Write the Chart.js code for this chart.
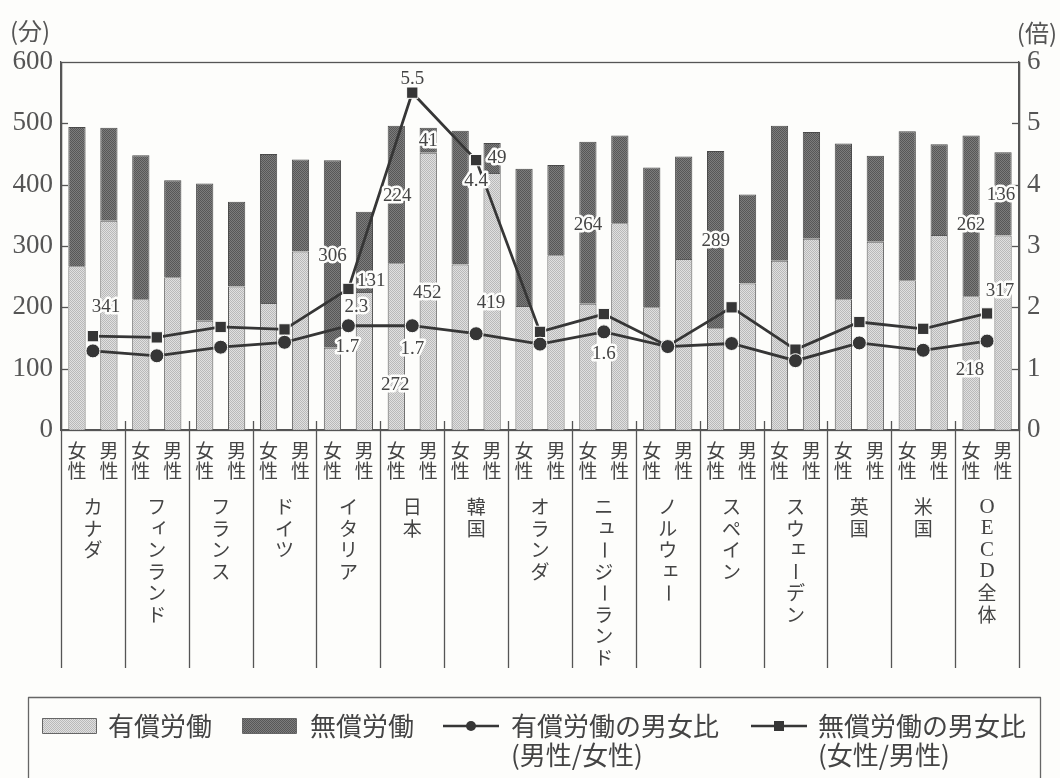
<!DOCTYPE html>
<html>
<head>
<meta charset="utf-8">
<script src="https://cdn.jsdelivr.net/npm/chart.js@4.4.0/dist/chart.umd.min.js"></script>
<style>
  html, body { margin: 0; background: #fdfdfb; }
  #wrap { width: 1060px; height: 778px; }
</style>
</head>
<body>
<div id="wrap"><canvas id="chart" width="1060" height="778"></canvas></div>
<script>
// categories: each country has a female / male pair of bars
const countries = ['カナダ', 'フィンランド', 'フランス', 'ドイツ', 'イタリア', '日本', '韓国', 'オランダ',
  'ニュージーランド', 'ノルウェー', 'スペイン', 'スウェーデン', '英国', '米国', 'OECD全体'];
const sexes = [['女', '性'], ['男', '性']];

// minutes per day, order: F, M for each country
const paidMinutes = [267, 341, 213, 249, 178, 234, 207, 291, 134, 225, 272, 452, 270, 419, 202, 285,
  206, 337, 200, 279, 166, 239, 276, 312, 213, 307, 244, 318, 218, 317];
const unpaidMinutes = [227, 152, 235, 158, 224, 138, 243, 150, 306, 131, 224, 41, 218, 49, 224, 147,
  264, 143, 228, 167, 289, 145, 220, 174, 254, 140, 243, 148, 262, 136];

// ratios per country
const paidRatio = [1.29, 1.21, 1.35, 1.43, 1.7, 1.7, 1.57, 1.40, 1.6, 1.36, 1.41, 1.13, 1.42, 1.30, 1.45];   // 男性/女性
const unpaidRatio = [1.53, 1.51, 1.68, 1.64, 2.3, 5.5, 4.4, 1.60, 1.89, 1.37, 2.0, 1.31, 1.76, 1.65, 1.9]; // 女性/男性

const minuteTicks = [0, 100, 200, 300, 400, 500, 600];
const ratioTicks = [0, 1, 2, 3, 4, 5, 6];

// which values get a printed label (dataset, index, offset from the mark)
const shownLabels = [
  { ds: 0, i: 1, dx: -3, dy: 86 },
  { ds: 1, i: 8, dx: 0, dy: 96 },
  { ds: 1, i: 9, dx: 7, dy: 69 },
  { ds: 1, i: 10, dx: 1, dy: 70 },
  { ds: 0, i: 10, dx: -1, dy: 122 },
  { ds: 1, i: 11, dx: 0, dy: 13 },
  { ds: 0, i: 11, dx: -1, dy: 140 },
  { ds: 1, i: 13, dx: 5, dy: 15 },
  { ds: 0, i: 13, dx: -1, dy: 130 },
  { ds: 1, i: 16, dx: 0, dy: 83 },
  { ds: 1, i: 20, dx: 0, dy: 90 },
  { ds: 1, i: 28, dx: 0, dy: 89 },
  { ds: 0, i: 28, dx: -1, dy: 74 },
  { ds: 1, i: 29, dx: -2, dy: 43 },
  { ds: 0, i: 29, dx: -3, dy: 55 },
  { ds: 3, i: 4, dx: 8, dy: 18 },
  { ds: 2, i: 4, dx: -1, dy: 21 },
  { ds: 3, i: 5, dx: 0, dy: -14 },
  { ds: 2, i: 5, dx: 0, dy: 23 },
  { ds: 3, i: 6, dx: 0, dy: 21 },
  { ds: 2, i: 8, dx: 0, dy: 22 }
];

const INK = '#363636';
const AXIS = '#555';
const BG = '#fdfdfb';
const JP = '"Noto Sans CJK JP", "Noto Sans CJK SC", sans-serif';
const NUM = '"Liberation Serif", "DejaVu Serif", serif';

// fine stipple texture like the printed screen tone
function makePattern(light, dark) {
  const c = document.createElement('canvas');
  c.width = 2; c.height = 2;
  const g = c.getContext('2d');
  g.fillStyle = light; g.fillRect(0, 0, 2, 2);
  g.fillStyle = dark; g.fillRect(0, 0, 1, 1); g.fillRect(1, 1, 1, 1);
  return g.createPattern(c, 'repeat');
}
const paidFill = makePattern('#e0e0e0', '#b9b9b9');
const unpaidFill = makePattern('#7c7c7c', '#575757');

const labels = countries.flatMap(() => sexes);
const ratioPoints = arr => arr.map((v, k) => ({ x: 2 * k + 1, y: v }));

const backdrop = {
  id: 'backdrop',
  beforeDraw(chart) {
    const { ctx, width, height } = chart;
    ctx.save();
    ctx.fillStyle = BG;
    ctx.fillRect(0, 0, width, height);
    ctx.restore();
  }
};

const decorations = {
  id: 'decorations',
  beforeDatasetsDraw(chart) {
    const { ctx, chartArea: a, scales } = chart;
    ctx.save();
    ctx.strokeStyle = AXIS;
    ctx.lineWidth = 1.3;
    // separators below axis between countries
    for (let k = 0; k <= countries.length; k++) {
      const x = Math.round(scales.x2.getPixelForValue(2 * k)) + 0.5;
      ctx.beginPath();
      ctx.moveTo(x, k === 0 || k === countries.length ? a.top : a.bottom - 9);
      ctx.lineTo(x, a.bottom + 238);
      ctx.stroke();
    }
    ctx.restore();
  },
  afterDraw(chart) {
    const { ctx, chartArea: a, scales } = chart;
    ctx.save();
    // frame
    ctx.strokeStyle = AXIS;
    ctx.lineWidth = 1.3;
    ctx.strokeRect(Math.round(a.left) + 0.5, Math.round(a.top) + 0.5, Math.round(a.right - a.left), Math.round(a.bottom - a.top));
    // inward ticks
    minuteTicks.slice(1, -1).forEach(v => {
      const y = Math.round(scales.y.getPixelForValue(v)) + 0.5;
      ctx.beginPath(); ctx.moveTo(a.left, y); ctx.lineTo(a.left + 7, y); ctx.stroke();
    });
    ratioTicks.slice(1, -1).forEach(v => {
      const y = Math.round(scales.y2.getPixelForValue(v)) + 0.5;
      ctx.beginPath(); ctx.moveTo(a.right, y); ctx.lineTo(a.right - 7, y); ctx.stroke();
    });

    // unit captions
    ctx.fillStyle = AXIS;
    ctx.font = '24px ' + JP;
    ctx.textBaseline = 'middle';
    ctx.textAlign = 'left';
    ctx.fillText('(分)', 10, 31);
    ctx.textAlign = 'right';
    ctx.fillText('(倍)', 1057, 33);

    // country names, written vertically
    const small = 'ィュェッャョ';
    countries.forEach((name, k) => {
      const cx = scales.x2.getPixelForValue(2 * k + 1);
      let y = a.bottom + 77;
      for (const ch of name) {
        ctx.save();
        ctx.fillStyle = '#444';
        ctx.textAlign = 'center';
        ctx.textBaseline = 'middle';
        if (/[A-Z]/.test(ch)) {
          ctx.font = '21px ' + NUM;
          ctx.fillText(ch, cx, y);
        } else if (ch === 'ー') {
          ctx.font = '19px ' + JP;
          ctx.translate(cx, y);
          ctx.rotate(Math.PI / 2);
          ctx.fillText(ch, 0, 0);
        } else if (small.includes(ch)) {
          ctx.font = '19px ' + JP;
          ctx.fillText(ch, cx + 3, y - 3);
        } else {
          ctx.font = '19px ' + JP;
          ctx.fillText(ch, cx, y);
        }
        ctx.restore();
        y += 21.5;
      }
    });

    // value labels
    ctx.font = '19px ' + NUM;
    ctx.textAlign = 'center';
    ctx.textBaseline = 'middle';
    ctx.lineJoin = 'round';
    shownLabels.forEach(l => {
      const el = chart.getDatasetMeta(l.ds).data[l.i];
      const raw = chart.data.datasets[l.ds].data[l.i];
      const text = typeof raw === 'object' ? raw.y.toFixed(1) : String(raw);
      const x = el.x + l.dx, y = el.y + l.dy;
      ctx.strokeStyle = BG;
      ctx.lineWidth = 5;
      ctx.strokeText(text, x, y);
      ctx.fillStyle = '#444';
      ctx.fillText(text, x, y);
    });

    // legend
    const ds = chart.data.datasets;
    ctx.strokeStyle = '#666';
    ctx.lineWidth = 1.3;
    ctx.strokeRect(28.5, 697.5, 1012, 100);
    ctx.font = '26px ' + JP;
    ctx.textAlign = 'left';
    const row1 = 726, row2 = 755;
    const swatch = (x, fill) => {
      ctx.fillStyle = fill;
      ctx.fillRect(x, row1 - 8, 54, 15);
      ctx.strokeStyle = '#666';
      ctx.lineWidth = 1;
      ctx.strokeRect(x + 0.5, row1 - 7.5, 54, 15);
    };
    const lineKey = (x, style) => {
      ctx.strokeStyle = INK;
      ctx.lineWidth = 2.5;
      ctx.beginPath(); ctx.moveTo(x, row1); ctx.lineTo(x + 56, row1); ctx.stroke();
      ctx.fillStyle = INK;
      if (style === 'circle') {
        ctx.beginPath(); ctx.arc(x + 28, row1, 5, 0, Math.PI * 2); ctx.fill();
      } else {
        ctx.fillRect(x + 23, row1 - 5, 10, 10);
      }
    };
    swatch(42, paidFill);
    ctx.fillStyle = '#444'; ctx.fillText(ds[0].label, 108, row1);
    swatch(242, unpaidFill);
    ctx.fillStyle = '#444'; ctx.fillText(ds[1].label, 310, row1);
    lineKey(443, 'circle');
    ctx.fillStyle = '#444'; ctx.fillText(ds[2].label[0], 511, row1); ctx.fillText(ds[2].label[1], 511, row2);
    lineKey(751, 'rect');
    ctx.fillStyle = '#444'; ctx.fillText(ds[3].label[0], 818, row1); ctx.fillText(ds[3].label[1], 818, row2);
    ctx.restore();
  }
};

new Chart(document.getElementById('chart'), {
  type: 'bar',
  data: {
    labels: labels,
    datasets: [
      {
        label: '有償労働',
        data: paidMinutes,
        backgroundColor: paidFill,
        borderColor: '#5a5a5a',
        borderWidth: 1,
        barPercentage: 0.54,
        categoryPercentage: 1,
        grouped: false,
        stack: 's',
        order: 2
      },
      {
        label: '無償労働',
        data: unpaidMinutes,
        backgroundColor: unpaidFill,
        borderColor: '#4a4a4a',
        borderWidth: 1,
        barPercentage: 0.54,
        categoryPercentage: 1,
        grouped: false,
        stack: 's',
        order: 3
      },
      {
        type: 'line',
        label: ['有償労働の男女比', '(男性/女性)'],
        data: ratioPoints(paidRatio),
        xAxisID: 'x2',
        yAxisID: 'y2',
        borderColor: INK,
        borderWidth: 2.8,
        pointStyle: 'circle',
        pointRadius: 7,
        pointBackgroundColor: INK,
        pointBorderColor: BG,
        pointBorderWidth: 1,
        order: 0
      },
      {
        type: 'line',
        label: ['無償労働の男女比', '(女性/男性)'],
        data: ratioPoints(unpaidRatio),
        xAxisID: 'x2',
        yAxisID: 'y2',
        borderColor: INK,
        borderWidth: 2.8,
        pointStyle: 'rect',
        pointRadius: 8,
        pointBackgroundColor: INK,
        pointBorderColor: BG,
        pointBorderWidth: 1,
        order: 1
      }
    ]
  },
  options: {
    responsive: false,
    animation: false,
    layout: { padding: { top: 62, bottom: 110, left: 0, right: 0 } },
    plugins: { legend: { display: false }, tooltip: { enabled: false } },
    scales: {
      x: {
        stacked: true,
        offset: true,
        grid: { display: false, drawTicks: false },
        border: { color: AXIS, width: 1.3 },
        ticks: { autoSkip: false, maxRotation: 0, color: '#444', padding: 11,
          font: { family: JP, size: 19, lineHeight: 1.05 } },
        afterFit: s => { s.height = 238; }
      },
      x2: { type: 'linear', min: 0, max: 30, offset: false, display: false },
      y: {
        stacked: true,
        position: 'left',
        min: 0, max: 600,
        afterBuildTicks: s => { s.ticks = minuteTicks.map(v => ({ value: v })); },
        grid: { display: false, drawTicks: false },
        border: { color: AXIS, width: 1.3 },
        ticks: { color: AXIS, padding: 8, font: { family: NUM, size: 27 } },
        afterFit: s => { s.width = 61; }
      },
      y2: {
        position: 'right',
        min: 0, max: 6,
        afterBuildTicks: s => { s.ticks = ratioTicks.map(v => ({ value: v })); },
        grid: { display: false, drawTicks: false },
        border: { color: AXIS, width: 1.3 },
        ticks: { color: AXIS, padding: 8, font: { family: NUM, size: 27 } },
        afterFit: s => { s.width = 41; }
      }
    }
  },
  plugins: [backdrop, decorations]
});
</script>
</body>
</html>
